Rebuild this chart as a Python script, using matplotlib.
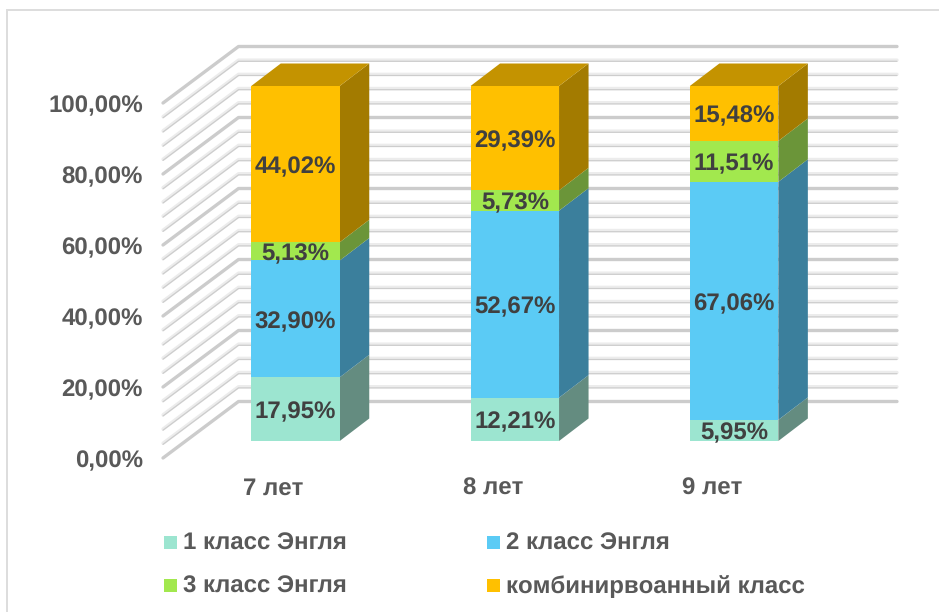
import matplotlib
matplotlib.use('Agg')
import matplotlib.pyplot as plt
from matplotlib.patches import Polygon, Rectangle

plt.rcParams['font.family'] = ['Liberation Sans', 'DejaVu Sans']
plt.rcParams['text.hinting'] = 'no_hinting'
plt.rcParams['text.hinting_factor'] = 1

categories = ['7 лет', '8 лет', '9 лет']
series_names = ['1 класс Энгля', '2 класс Энгля', '3 класс Энгля', 'комбинирвоанный класс']
class1 = [17.95, 12.21, 5.95]
class2 = [32.90, 52.67, 67.06]
class3 = [5.13, 5.73, 11.51]
combined = [44.02, 29.39, 15.48]
series = [class1, class2, class3, combined]
y_ticks = [0, 20, 40, 60, 80, 100]
grid_step = 4

front = ['#9CE5D0', '#5BCBF5', '#A2E84E', '#FFC000']
side = ['#648C80', '#3B7F9C', '#6B9539', '#A37B00']
top_col = '#C49300'
label_col = '#404040'
axis_col = '#595959'

W, H = 939, 612
PX_X = 219.3      # pixels per category
PX_Y = 3.55       # pixels per percent
X0, Y0 = 295.5, 441.0  # pixel position of first category / 0 %

fig = plt.figure(figsize=(W / 100, H / 100), dpi=100, facecolor='white')
ax = fig.add_axes([0, 0, 1, 1])
ax.set_xlim(-X0 / PX_X, (W - X0) / PX_X)
ax.set_ylim((Y0 - H) / PX_Y, Y0 / PX_Y)
ax.axis('off')

dx = 1 / PX_X   # one pixel in data x
dy = 1 / PX_Y   # one pixel in data y

# frame: only the top and left edges are visible
xmin, xmax = ax.get_xlim()
ymin, ymax = ax.get_ylim()
ax.plot([xmax, xmin + 7 * dx, xmin + 7 * dx], [ymax - 10.5 * dy, ymax - 10.5 * dy, ymin],
        color='#DDDDDD', lw=1.4, zorder=1, solid_joinstyle='miter')

# wall geometry (offsets from the bar's front plane, in pixels)
wall_left = -132.5
wall_right = 601.5
front_off = -17
back_off = 39.5
wall_dx = 75.5

def wall_line(v, color, lw, shift=0):
    yfront = v + front_off * dy + shift * dy
    yback = v + back_off * dy + shift * dy
    xs = [wall_left * dx, (wall_left + wall_dx) * dx, wall_right * dx]
    ys = [yfront, yback, yback]
    ax.plot(xs, ys, color=color, lw=lw, solid_capstyle='round',
            solid_joinstyle='round', zorder=2)

for v in range(0, 101, grid_step):
    if v % 20 == 0:
        wall_line(v, '#CCCCCC', 2.4)
    else:
        wall_line(v, '#ECECEC', 2.4, shift=0.6)
        wall_line(v, '#CDCDCD', 0.9, shift=-0.6)

# stacked 3D bars
BAR_W = 88.5
DEPTH_X = 29.5
DEPTH_Y = 22.5
for i in range(len(categories)):
    bottom = 0.0
    left = i - BAR_W / 2 * dx
    right = i + BAR_W / 2 * dx
    for s, values in enumerate(series):
        v = values[i]
        t = bottom + v
        ax.add_patch(Polygon([(right, bottom), (right + DEPTH_X * dx, bottom + DEPTH_Y * dy),
                              (right + DEPTH_X * dx, t + DEPTH_Y * dy), (right, t)],
                             closed=True, fc=side[s], ec='none', zorder=3))
        ax.add_patch(Rectangle((left, bottom), right - left, v, fc=front[s], ec='none', zorder=4))
        ax.text(i, bottom + v / 2 - 9 * dy, f'{v:.2f}%'.replace('.', ','), ha='center',
                va='baseline', fontsize=17.4, fontweight='bold', color=label_col, zorder=6)
        bottom = t
    ax.add_patch(Polygon([(left, bottom), (left + DEPTH_X * dx, bottom + DEPTH_Y * dy),
                          (right + DEPTH_X * dx, bottom + DEPTH_Y * dy), (right, bottom)],
                         closed=True, fc=top_col, ec='none', zorder=3))

# value axis labels
for v in y_ticks:
    ax.text(wall_left * dx - 20 * dx, v + front_off * dy - 9 * dy, f'{v:.2f}%'.replace('.', ','),
            ha='right', va='baseline', fontsize=17, fontweight='bold', color=axis_col)

# category labels
for i, c in enumerate(categories):
    ax.text(i - 22 * dx, (Y0 - 494.5) * dy, c, ha='center', va='baseline',
            fontsize=17.2, fontweight='bold', color=axis_col)

# legend
leg_x = [-132, 191]
leg_base = [(Y0 - 550) * dy, (Y0 - 593) * dy]
for s, name in enumerate(series_names):
    col = s % 2
    row = s // 2
    ax.add_patch(Rectangle((leg_x[col] * dx, leg_base[row] + 1 * dy), 13 * dx, 13 * dy,
                           fc=front[s], ec='none'))
    ax.text((leg_x[col] + 19) * dx, leg_base[row], name, ha='left', va='baseline',
            fontsize=17.5, fontweight='bold', color=axis_col)

fig.savefig('out.png', dpi=100, facecolor='white')
